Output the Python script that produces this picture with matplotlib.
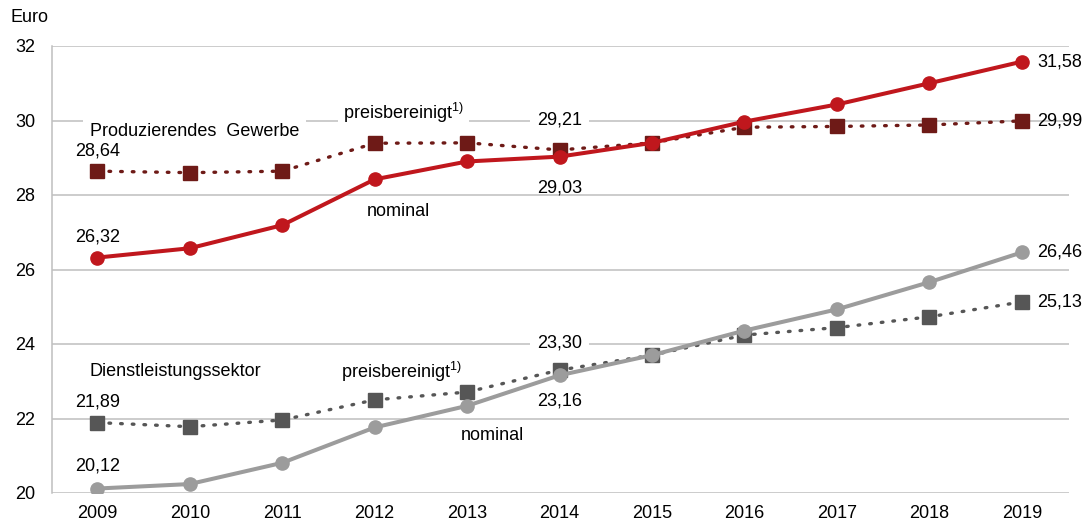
import matplotlib.pyplot as plt

plt.rcParams['font.family'] = ['Liberation Sans', 'DejaVu Sans']
plt.rcParams['mathtext.default'] = 'regular'

years = [2009, 2010, 2011, 2012, 2013, 2014, 2015, 2016, 2017, 2018, 2019]

# Produzierendes Gewerbe
prod_nominal = [26.32, 26.57, 27.19, 28.42, 28.90, 29.03, 29.40, 29.97, 30.43, 31.00, 31.58]
prod_real = [28.64, 28.60, 28.64, 29.39, 29.40, 29.21, 29.40, 29.82, 29.84, 29.88, 29.99]

# Dienstleistungssektor
serv_nominal = [20.12, 20.24, 20.81, 21.76, 22.34, 23.16, 23.70, 24.36, 24.93, 25.66, 26.46]
serv_real = [21.89, 21.78, 21.96, 22.50, 22.71, 23.30, 23.70, 24.24, 24.44, 24.73, 25.13]

yticks = [20, 22, 24, 26, 28, 30, 32]

red = '#C0171D'
darkred = '#6E1A17'
lightgray = '#9C9C9C'
darkgray = '#565656'
gridc = '#BFBFBF'
fs = 13


def fmt(v):
    return f'{v:.2f}'.replace('.', ',')


fig = plt.figure(figsize=(10.88, 5.25), dpi=100)
ax = fig.add_axes([52 / 1088, 1 - 493 / 525, (1069 - 52) / 1088, (493 - 46) / 525])

for v in yticks:
    ax.axhline(v, color=gridc, lw=1.1, zorder=1)

dotted = (0, (0.5, 3.0))
ax.plot(years, prod_real, color=darkred, lw=2.4, ls=dotted, dash_capstyle='round',
        marker='s', ms=10, zorder=3)
ax.plot(years, prod_nominal, color=red, lw=2.9, marker='o', ms=9.5, zorder=4)
ax.plot(years, serv_real, color=darkgray, lw=2.4, ls=dotted, dash_capstyle='round',
        marker='s', ms=10, zorder=3)
ax.plot(years, serv_nominal, color=lightgray, lw=2.9, marker='o', ms=9.5, zorder=4)

ax.set_xlim(2008.51, 2019.51)
ax.set_ylim(20, 32)
ax.set_xticks(years)
ax.set_yticks(yticks)
ax.tick_params(length=0, labelsize=fs)
ax.tick_params(axis='y', pad=12)
ax.tick_params(axis='x', pad=9)
for s in ['top', 'right', 'bottom']:
    ax.spines[s].set_visible(False)
ax.spines['left'].set_color(gridc)
ax.spines['left'].set_linewidth(1.1)

fig.text(10 / 1088, 1 - 18 / 525, 'Euro', fontsize=fs, va='center')

# series captions
ax.text(2008.92, 29.7, 'Produzierendes  Gewerbe', fontsize=fs, va='center',
        bbox=dict(facecolor='white', edgecolor='none', pad=5), zorder=2)
ax.text(2011.66, 30.2, 'preisbereinigt$^{1)}$', fontsize=fs, va='center',
        bbox=dict(facecolor='white', edgecolor='none', pad=4), zorder=2)
ax.text(2011.92, 27.55, 'nominal', fontsize=fs, va='center')
ax.text(2008.92, 23.25, 'Dienstleistungssektor', fontsize=fs, va='center')
ax.text(2011.64, 23.25, 'preisbereinigt$^{1)}$', fontsize=fs, va='center')
ax.text(2012.93, 21.55, 'nominal', fontsize=fs, va='center')

# value labels
ax.text(years[0], prod_real[0] + 0.55, fmt(prod_real[0]), fontsize=fs, ha='center', va='center')
ax.text(years[0], prod_nominal[0] + 0.55, fmt(prod_nominal[0]), fontsize=fs, ha='center', va='center')
ax.text(years[0], serv_real[0] + 0.55, fmt(serv_real[0]), fontsize=fs, ha='center', va='center')
ax.text(years[0], serv_nominal[0] + 0.6, fmt(serv_nominal[0]), fontsize=fs, ha='center', va='center')

ax.text(years[5], prod_real[5] + 0.79, fmt(prod_real[5]), fontsize=fs, ha='center', va='center',
        bbox=dict(facecolor='white', edgecolor='none', pad=5), zorder=2)
ax.text(years[5], prod_nominal[5] - 0.83, fmt(prod_nominal[5]), fontsize=fs, ha='center', va='center')
ax.text(years[5], serv_real[5] + 0.72, fmt(serv_real[5]), fontsize=fs, ha='center', va='center',
        bbox=dict(facecolor='white', edgecolor='none', pad=5), zorder=2)
ax.text(years[5], serv_nominal[5] - 0.68, fmt(serv_nominal[5]), fontsize=fs, ha='center', va='center')

for vals in [prod_nominal, prod_real, serv_nominal, serv_real]:
    ax.text(years[-1] + 0.17, vals[-1], fmt(vals[-1]), fontsize=fs, ha='left', va='center')

fig.savefig('out.png', dpi=100)
